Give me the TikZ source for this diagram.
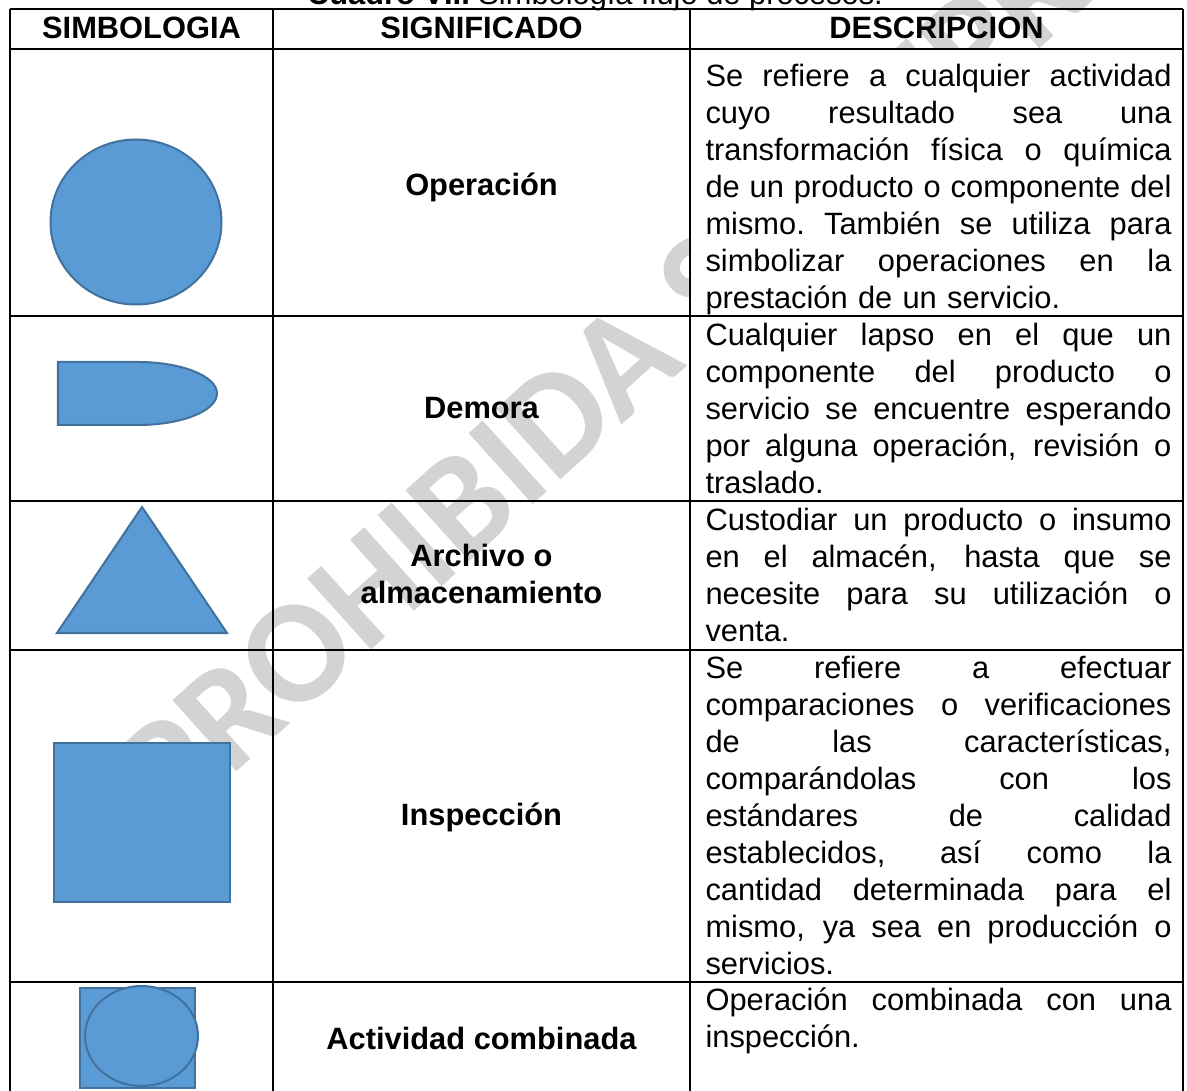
\documentclass[tikz,border=0pt]{standalone}
\usepackage{fontspec}
\setmainfont{Liberation Sans}
\newfontfamily\markfont{Carlito}
\usetikzlibrary{positioning}

\definecolor{symbolfill}{HTML}{5B9BD5}
\definecolor{symboledge}{HTML}{41719C}
\definecolor{markgray}{HTML}{D3D3D3}

% one justified line of the description column
\newcommand{\fullline}[1]{\makebox[173.8pt][s]{\spaceskip=0.278em plus 10em\xspaceskip=\spaceskip #1}\\}

\begin{document}
\begin{tikzpicture}[
    x=0.373pt,
    y=-0.373pt,
    font=\fontsize{11.5}{13.8}\selectfont,
    symbol/.style={
        draw=symboledge,
        fill=symbolfill,
        line width=0.75pt
    },
    rule/.style={
        draw,
        black,
        line width=0.9pt
    },
    heading/.style={
        font=\fontsize{11.5}{13.8}\selectfont\bfseries,
        inner sep=0pt
    },
    meaning/.style={
        font=\fontsize{11.5}{13.8}\selectfont\bfseries,
        align=center,
        inner sep=0pt
    },
    description/.style={
        anchor=north west,
        inner sep=0pt,
        text width=173.8pt,
        align=left,
        execute at begin node={\noindent\strut}
    },
    watermark/.style={
        font=\markfont\bfseries\fontsize{55}{60}\selectfont,
        text=markgray,
        rotate=42,
        anchor=base west,
        inner sep=0pt
    },
    ]
    \useasboundingbox (0,0) rectangle (1187,1091);

    % watermark, hidden under the description cells
    \node[watermark] (mark) at (172,830) {PROHIBIDA SU REPRODUCCIÓN};
    \fill[white] (690,49) rectangle (1183,1098);

    % symbols
    \draw[symbol] (136,222) ellipse [x radius=85.5, y radius=82.5];
    \draw[symbol] (58,362) -- (138,362)
        arc [start angle=-90, end angle=90, x radius=79, y radius=31.5]
        -- (58,425) -- cycle;
    \draw[symbol] (142,507) -- (227,633) -- (57,633) -- cycle;
    \draw[symbol] (54,743) rectangle (230,902);
    \draw[symbol] (80,988) rectangle (195,1088);
    \draw[symbol] (141.5,1036) ellipse [x radius=56.5, y radius=50];

    % table
    \foreach \y in {9,49,316,501,650,982,1098}
        \draw[rule] (10,\y) -- (1183,\y);
    \foreach \x in {10,273,690,1183}
        \draw[rule] (\x,9) -- (\x,1098);

    \node[anchor=base] (caption) at (595,5) {\textbf{Cuadro VII.} Simbología flujo de procesos.};

    \node[heading] (head sym) at (141.5,28) {SIMBOLOGIA};
    \node[heading] (head mean) at (481.5,28) {SIGNIFICADO};
    \node[heading] (head desc) at (936.5,28) {DESCRIPCION};

    \node[meaning, anchor=base] (operacion) at (481.5,196) {Operación};
    \node[meaning, anchor=base] (demora) at (481.5,419) {Demora};
    \node[meaning] (archivo) at (481.5,574) {Archivo o\\almacenamiento};
    \node[meaning, anchor=base] (inspeccion) at (481.5,826) {Inspección};
    \node[meaning, anchor=base] (combinada) at (481.5,1050) {Actividad combinada};

    \node[description] (desc operacion) at (705,60) {%
        \fullline{Se refiere a cualquier actividad}
        \fullline{cuyo resultado sea una}
        \fullline{transformación física o química}
        \fullline{de un producto o componente del}
        \fullline{mismo. También se utiliza para}
        \fullline{simbolizar operaciones en la}
        prestación de un servicio.};
    \node[description] (desc demora) at (705,319) {%
        \fullline{Cualquier lapso en el que un}
        \fullline{componente del producto o}
        \fullline{servicio se encuentre esperando}
        \fullline{por alguna operación, revisión o}
        traslado.};
    \node[description] (desc archivo) at (705,504) {%
        \fullline{Custodiar un producto o insumo}
        \fullline{en el almacén, hasta que se}
        \fullline{necesite para su utilización o}
        venta.};
    \node[description] (desc inspeccion) at (705,652) {%
        \fullline{Se refiere a efectuar}
        \fullline{comparaciones o verificaciones}
        \fullline{de las características,}
        \fullline{comparándolas con los}
        \fullline{estándares de calidad}
        \fullline{establecidos, así como la}
        \fullline{cantidad determinada para el}
        \fullline{mismo, ya sea en producción o}
        servicios.};
    \node[description] (desc combinada) at (705,984) {%
        \fullline{Operación combinada con una}
        inspección.};
\end{tikzpicture}
\end{document}
